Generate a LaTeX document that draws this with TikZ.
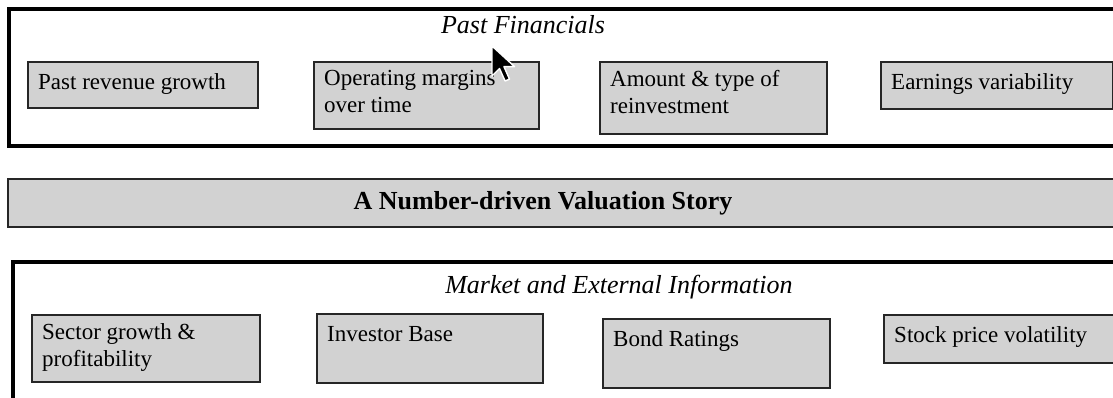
\documentclass[tikz,border=0pt]{standalone}
\usepackage{fontspec}
\setmainfont{Liberation Serif}
\usepackage{tikz}
\usepackage{xcolor}
\usetikzlibrary{
    calc
}
\definecolor{boxgray}{RGB}{210,210,210}
\newcommand{\boxfont}{\fontsize{23}{27}\selectfont}
\newcommand{\headfont}{\fontsize{26}{30}\selectfont}
\tikzset{
    frame/.style={draw=black, line width=3.5pt},
    cell/.style={draw=black!85, line width=1.6pt, fill=boxgray, anchor=north west, inner sep=0pt},
    celltext/.style={anchor=north west, inner sep=0pt, align=left, font=\boxfont,
        xshift=11pt, yshift=-9pt, execute at begin node=\strut},
    heading/.style={anchor=base, inner sep=0pt, font=\headfont\itshape}
}

\begin{document}
\begin{tikzpicture}[x=1pt, y=-1pt]
    \useasboundingbox (0, 0) rectangle (1113, 398);
    \clip (0, 0) rectangle (1113, 398);

    % past financials
    \draw[frame] (9, 9) rectangle (1130, 146);
    \node[heading] (past) at (523, 34) {Past Financials};
    \node[cell, minimum width=230, minimum height=46] (p1) at (27, 61) {};
    \node[cell, minimum width=225, minimum height=67] (p2) at (313, 61) {};
    \node[cell, minimum width=227, minimum height=72] (p3) at (599, 61) {};
    \node[cell, minimum width=232, minimum height=47] (p4) at (880, 61) {};
    \node[celltext] (p1t) at (p1.north west) {Past revenue growth};
    \node[celltext] (p2t) at (p2.north west) {Operating margins\\over time};
    \node[celltext] (p3t) at (p3.north west) {Amount \& type of\\reinvestment};
    \node[celltext] (p4t) at (p4.north west) {Earnings variability};

    % the story in between
    \node[cell, line width=1.8pt, minimum width=1130, minimum height=48] (story) at (7, 178) {};
    \node[anchor=base, inner sep=0pt, font=\headfont\bfseries] (storyt) at (543, 210)
        {A Number-driven Valuation Story};

    % market and external information
    \draw[frame] (13, 262) rectangle (1130, 430);
    \node[heading] (market) at (619, 293) {Market and External Information};
    \node[cell, minimum width=228, minimum height=67] (m1) at (31, 314) {};
    \node[cell, minimum width=226, minimum height=69] (m2) at (316, 313) {};
    \node[cell, minimum width=227, minimum height=69] (m3) at (602, 318) {};
    \node[cell, minimum width=240, minimum height=48] (m4) at (883, 314) {};
    \node[celltext] (m1t) at (m1.north west) {Sector growth \&\\profitability};
    \node[celltext] (m2t) at (m2.north west) {Investor Base};
    \node[celltext] (m3t) at (m3.north west) {Bond Ratings};
    \node[celltext] (m4t) at (m4.north west) {Stock price volatility};

    % mouse pointer
    \filldraw[fill=black, draw=white, line width=1.4pt, line join=round]
        (492, 46) -- ++(0, 30) -- ++(7.5, -7.5) -- ++(5.6, 12.5) -- ++(4.4, -1.9)
        -- ++(-5.6, -12.5) -- ++(10.6, 0) -- cycle;
\end{tikzpicture}
\end{document}
